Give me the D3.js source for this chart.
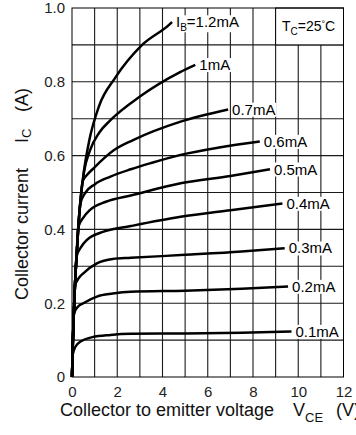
<!DOCTYPE html>
<html>
<head>
<meta charset="utf-8">
<script src="https://cdn.jsdelivr.net/npm/d3@7"></script>
<style>
  body { margin: 0; background: #fff; }
  svg { display: block; font-family: "Liberation Sans", Arial, sans-serif; }
</style>
</head>
<body>
<svg width="356" height="435"></svg>
<script>
// tick values
const vceTicks = [0, 2, 4, 6, 8, 10, 12];
const icTicks = [0, 0.2, 0.4, 0.6, 0.8, 1.0];

// base current labels, one per curve (bottom to top)
const ibLabels = ['0.1mA', '0.2mA', '0.3mA', '0.4mA', '0.5mA', '0.6mA', '0.7mA', '1mA', '1.2mA'];

// curves: [VCE (V), IC (A)]
const ib01 = [[0, 0], [0.03, 0.06], [0.15, 0.082], [0.4, 0.097], [0.9, 0.108], [1.7, 0.114], [2.6, 0.117], [5, 0.118], [7.5, 0.12], [9.7, 0.123]];
const ib02 = [[0, 0], [0.04, 0.1], [0.08, 0.17], [0.25, 0.19], [0.5, 0.2], [1.1, 0.218], [1.8, 0.226], [2.6, 0.231], [5, 0.234], [7.5, 0.239], [9.55, 0.245]];
const ib03 = [[0, 0], [0.04, 0.1], [0.08, 0.17], [0.13, 0.247], [0.3, 0.268], [0.5, 0.281], [1.1, 0.308], [1.8, 0.32], [2.6, 0.323], [5, 0.331], [7.5, 0.34], [9.4, 0.349]];
const ib04 = [[0, 0], [0.04, 0.1], [0.08, 0.17], [0.13, 0.247], [0.2, 0.326], [0.4, 0.352], [0.65, 0.371], [1.4, 0.394], [2.6, 0.409], [4.8, 0.434], [7, 0.452], [9.3, 0.47]];
const ib05 = [[0, 0], [0.04, 0.1], [0.08, 0.17], [0.13, 0.247], [0.2, 0.326], [0.28, 0.407], [0.5, 0.432], [0.8, 0.453], [1.5, 0.475], [2.6, 0.492], [4.8, 0.525], [7, 0.545], [8.75, 0.563]];
const ib06 = [[0, 0], [0.04, 0.1], [0.08, 0.17], [0.13, 0.247], [0.2, 0.326], [0.28, 0.407], [0.37, 0.47], [0.6, 0.5], [1, 0.522], [1.7, 0.543], [2.6, 0.563], [3.5, 0.58], [4.8, 0.602], [6.5, 0.622], [8.3, 0.638]];
const ib07 = [[0, 0], [0.04, 0.1], [0.08, 0.17], [0.13, 0.247], [0.2, 0.326], [0.28, 0.407], [0.37, 0.475], [0.47, 0.53], [0.7, 0.55], [0.94, 0.565], [1.86, 0.615], [2.7, 0.642], [4.8, 0.692], [6.9, 0.725]];
const ib10 = [[0, 0], [0.04, 0.1], [0.08, 0.17], [0.13, 0.247], [0.2, 0.326], [0.28, 0.407], [0.37, 0.475], [0.52, 0.552], [0.8, 0.615], [1.2, 0.662], [1.7, 0.696], [3, 0.76], [4.8, 0.827], [5.45, 0.846]];
const ib12 = [[0, 0], [0.04, 0.1], [0.08, 0.17], [0.13, 0.247], [0.2, 0.326], [0.28, 0.407], [0.37, 0.475], [0.52, 0.555], [0.76, 0.64], [1.2, 0.735], [1.9, 0.81], [3.1, 0.9], [4.3, 0.955], [4.42, 0.962]];

const curves = [ib01, ib02, ib03, ib04, ib05, ib06, ib07, ib10, ib12];

var svg = d3.select('svg');
var margin = { top: 8, right: 12.5, bottom: 58, left: 72 };
var width = 356 - margin.left - margin.right;
var height = 435 - margin.top - margin.bottom;

var g = svg.append('g')
    .attr('transform', 'translate(' + margin.left + ',' + margin.top + ')');

var x = d3.scaleLinear().domain([0, 12]).range([0, width]);
var y = d3.scaleLinear().domain([0, 1]).range([height, 0]);

// grid: every volt and every 0.1 A
g.append('g')
    .selectAll('line')
    .data(d3.range(1, 12))
    .join('line')
    .attr('x1', d => x(d)).attr('x2', d => x(d))
    .attr('y1', 0).attr('y2', height)
    .attr('stroke', '#1a1a1a').attr('stroke-width', 1.1);

g.append('g')
    .selectAll('line')
    .data(d3.range(1, 10).map(d => d / 10))
    .join('line')
    .attr('x1', 0).attr('x2', width)
    .attr('y1', d => y(d)).attr('y2', d => y(d))
    .attr('stroke', '#1a1a1a').attr('stroke-width', 1.1);

// temperature box in the top right corner
g.append('rect')
    .attr('x', x(9)).attr('y', y(1))
    .attr('width', x(12) - x(9)).attr('height', y(0.9) - y(1))
    .attr('fill', '#fff').attr('stroke', '#000').attr('stroke-width', 1);

var tc = g.append('text')
    .attr('x', (x(9) + x(12)) / 2 - 1)
    .attr('y', (y(1) + y(0.9)) / 2)
    .attr('dy', '0.35em')
    .attr('text-anchor', 'middle')
    .attr('font-size', 14);
tc.append('tspan').text('T');
tc.append('tspan').attr('font-size', 10).attr('dy', 4).text('C');
tc.append('tspan').attr('dy', -4).text('=25');
tc.append('tspan').attr('font-size', 9).attr('dy', -4).text('°');
tc.append('tspan').attr('dy', 4).text('C');

// frame
g.append('rect')
    .attr('width', width).attr('height', height)
    .attr('fill', 'none').attr('stroke', '#000').attr('stroke-width', 1);

// axes (labels only)
var yAxis = g.append('g')
    .call(d3.axisLeft(y).tickValues(icTicks).tickSize(0).tickPadding(7)
        .tickFormat(d => d === 0 ? '0' : d3.format('.1f')(d)));
yAxis.select('.domain').remove();
yAxis.selectAll('text').attr('font-size', 15).attr('fill', '#222')
    .style('font-family', '"Liberation Sans", Arial, sans-serif');

var xAxis = g.append('g')
    .attr('transform', 'translate(0,' + height + ')')
    .call(d3.axisBottom(x).tickValues(vceTicks).tickSize(0).tickPadding(9));
xAxis.select('.domain').remove();
xAxis.selectAll('text').attr('font-size', 15).attr('fill', '#222')
    .style('font-family', '"Liberation Sans", Arial, sans-serif');

// characteristic curves
var line = d3.line()
    .x(d => x(d[0]))
    .y(d => y(d[1]))
    .curve(d3.curveMonotoneX);

g.append('g')
    .selectAll('path')
    .data(curves)
    .join('path')
    .attr('fill', 'none')
    .attr('stroke', '#000')
    .attr('stroke-width', 2.5)
    .attr('stroke-linejoin', 'round')
    .attr('d', line);

// curve labels with white backing
var labels = g.append('g');
curves.forEach(function (c, i) {
    var last = c[c.length - 1];
    var lg = labels.append('g');
    var t = lg.append('text')
        .attr('x', x(last[0]) + 4)
        .attr('y', y(last[1]))
        .attr('dy', '0.35em')
        .attr('font-size', 15);
    if (i === curves.length - 1) {
        t.append('tspan').text('I');
        t.append('tspan').attr('font-size', 10).attr('dy', 4).text('B');
        t.append('tspan').attr('dy', -4).text('=' + ibLabels[i]);
    } else {
        t.text(ibLabels[i]);
    }
    var bb = t.node().getBBox();
    lg.insert('rect', 'text')
        .attr('x', bb.x - 1).attr('y', bb.y + 2)
        .attr('width', bb.width + 2).attr('height', bb.height - 3)
        .attr('fill', '#fff');
});

// axis titles
var yt = svg.append('text')
    .attr('transform', 'translate(28,300) rotate(-90)')
    .attr('font-size', 18)
    .attr('fill', '#111');
yt.append('tspan').text('Collector current');
yt.append('tspan').attr('x', 157).text('I');
yt.append('tspan').attr('font-size', 13).attr('dy', 3).text('C');
yt.append('tspan').attr('x', 188).attr('dy', -3).text('(A)');

var xt = svg.append('text')
    .attr('x', 60)
    .attr('y', 416)
    .attr('font-size', 18)
    .attr('fill', '#111');
xt.append('tspan').text('Collector to emitter voltage');
xt.append('tspan').attr('x', 293).text('V');
xt.append('tspan').attr('font-size', 13).attr('dy', 6).text('CE');
xt.append('tspan').attr('x', 336).attr('dy', -6).text('(V)');
</script>
</body>
</html>
